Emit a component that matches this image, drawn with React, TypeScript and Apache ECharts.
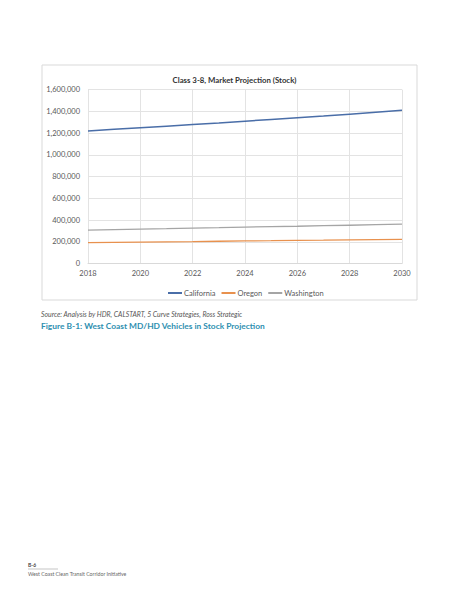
import React, { useEffect, useRef } from "react";
import * as echarts from "echarts";

const years = [2018, 2019, 2020, 2021, 2022, 2023, 2024, 2025, 2026, 2027, 2028, 2029, 2030];
const california = [1220000, 1235000, 1250000, 1264000, 1279000, 1294000, 1310000, 1326000, 1342000, 1358000, 1375000, 1392000, 1410000];
const oregon = [192000, 195000, 197000, 200000, 202000, 205000, 208000, 210000, 213000, 215000, 218000, 220000, 223000];
const washington = [308000, 312000, 317000, 321000, 326000, 330000, 335000, 339000, 343000, 348000, 352000, 357000, 362000];

const chartTitle = "Class 3-8, Market Projection (Stock)";
const sourceText = "Source: Analysis by HDR, CALSTART, 5 Curve Strategies, Ross Strategic";
const captionText = "Figure B-1: West Coast MD/HD Vehicles in Stock Projection";
const pageLabel = "B-6";
const footerText = "West Coast Clean Transit Corridor Initiative";

const pairs = (vals: number[]) => years.map((y, i) => [y, vals[i]]);

export default function App() {
  const ref = useRef<HTMLDivElement>(null);
  useEffect(() => {
    if (!ref.current) return;
    const chart = echarts.init(ref.current, undefined, { renderer: "svg" });
    const font = "Lato, 'Open Sans', sans-serif";
    chart.setOption({
      animation: false,
      backgroundColor: "#ffffff",
      textStyle: { fontFamily: font },
      title: {
        text: chartTitle,
        left: 229.5,
        textAlign: "center",
        top: 71,
        textStyle: { fontSize: 7.8, fontWeight: "bold", color: "#333333", fontFamily: font },
      },
      grid: { left: 88, right: 61, top: 89.7, bottom: 335.5 },
      xAxis: {
        type: "value",
        min: 2018,
        max: 2030,
        interval: 2,
        axisLine: { show: true, lineStyle: { color: "#d9d9d9" } },
        axisTick: { show: false },
        axisLabel: { color: "#595959", fontSize: 7.5, margin: 6, fontFamily: font, formatter: (v: number) => String(v) },
        splitLine: { show: true, lineStyle: { color: "#e3e3e3", width: 1 } },
      },
      yAxis: {
        type: "value",
        min: 0,
        max: 1600000,
        interval: 200000,
        axisLine: { show: false },
        axisTick: { show: false },
        axisLabel: {
          color: "#595959",
          fontSize: 7.5,
          margin: 8,
          fontFamily: font,
          formatter: (v: number) => v.toLocaleString("en-US"),
        },
        splitLine: { show: true, lineStyle: { color: "#e3e3e3", width: 1 } },
      },
      legend: {
        left: 163,
        top: 284,
        itemWidth: 14,
        itemHeight: 2,
        itemGap: 6,
        icon: "rect",
        textStyle: { fontSize: 7.5, color: "#595959", fontFamily: font, padding: [0, 0, 0, -3] },
        data: ["California", "Oregon", "Washington"],
      },
      series: [
        { name: "California", type: "line", data: pairs(california), showSymbol: false, lineStyle: { color: "#4a6ea8", width: 1.5 }, itemStyle: { color: "#4a6ea8" } },
        { name: "Oregon", type: "line", data: pairs(oregon), showSymbol: false, lineStyle: { color: "#e8914e", width: 1.3 }, itemStyle: { color: "#e8914e" } },
        { name: "Washington", type: "line", data: pairs(washington), showSymbol: false, lineStyle: { color: "#a5a5a5", width: 1.3 }, itemStyle: { color: "#a5a5a5" } },
      ],
      graphic: [
        { type: "rect", shape: { x: 42, y: 65, width: 375, height: 235 }, style: { fill: "none", stroke: "#d9d9d9", lineWidth: 1 }, z: -1 },
        { type: "text", x: 41, y: 310, style: { text: sourceText, fontSize: 6.9, fontStyle: "italic", fill: "#555555", fontFamily: font } },
        { type: "text", x: 41, y: 322, style: { text: captionText, fontSize: 8.4, fontWeight: "bold", fill: "#2e8fb0", fontFamily: font } },
        { type: "text", x: 28, y: 562, style: { text: pageLabel, fontSize: 5, fontWeight: "bold", fill: "#444444", fontFamily: font } },
        { type: "line", shape: { x1: 28, y1: 569, x2: 58, y2: 569 }, style: { stroke: "#888888", lineWidth: 0.5 } },
        { type: "text", x: 28, y: 571, style: { text: footerText, fontSize: 5.2, fill: "#666666", fontFamily: font } },
      ],
    });
    return () => chart.dispose();
  }, []);
  return <div ref={ref} style={{ position: "absolute", left: 0, top: 0, width: 463, height: 599 }} />;
}
